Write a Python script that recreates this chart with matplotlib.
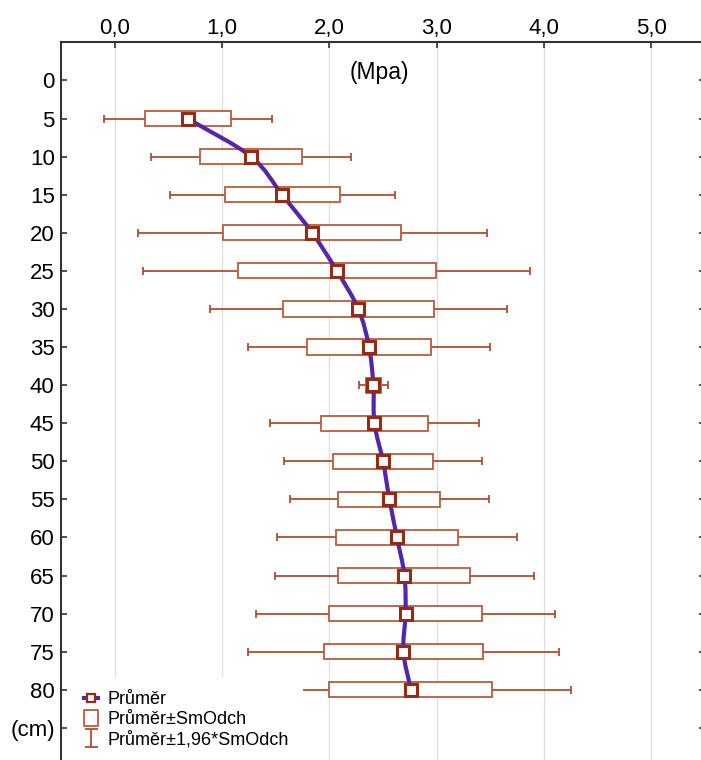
import matplotlib

matplotlib.use("Agg")
import matplotlib.pyplot as plt
import numpy as np
from matplotlib.lines import Line2D
from matplotlib.patches import PathPatch
from matplotlib.path import Path
from matplotlib.ticker import FuncFormatter, MultipleLocator

plt.rcParams["font.family"] = ["Liberation Sans", "DejaVu Sans"]

# penetrometer resistance by depth: mean and standard deviation
depth_cm = [5, 10, 15, 20, 25, 30, 35, 40, 45, 50, 55, 60, 65, 70, 75, 80]
mean_mpa = [0.68, 1.27, 1.56, 1.84, 2.07, 2.27, 2.37, 2.41,
            2.42, 2.50, 2.56, 2.63, 2.70, 2.71, 2.69, 2.76]
sd_mpa = [0.40, 0.475, 0.535, 0.83, 0.92, 0.705, 0.575, 0.07,
          0.497, 0.47, 0.475, 0.57, 0.615, 0.71, 0.74, 0.76]

y_ticks = [0, 5, 10, 15, 20, 25, 30, 35, 40, 45, 50, 55, 60, 65, 70, 75, 80, 85]
y_ticklabels = ["0", "5", "10", "15", "20", "25", "30", "35", "40",
                "45", "50", "55", "60", "65", "70", "75", "80", "(cm)"]

legend_labels = ["Průměr", "Průměr±SmOdch", "Průměr±1,96*SmOdch"]

BOX = "#bb5a3c"
WHISK = "#b24c30"
MARK = "#962a12"
LINE = "#5128ad"


def smooth_path(x, y):
    """Cubic Bezier path through the points (Catmull-Rom style tangents)."""
    x = np.asarray(x, float)
    y = np.asarray(y, float)
    slope = np.gradient(x, y)
    verts = [(x[0], y[0])]
    codes = [Path.MOVETO]
    for i in range(len(x) - 1):
        h = y[i + 1] - y[i]
        verts += [(x[i] + slope[i] * h / 3, y[i] + h / 3),
                  (x[i + 1] - slope[i + 1] * h / 3, y[i + 1] - h / 3),
                  (x[i + 1], y[i + 1])]
        codes += [Path.CURVE4] * 3
    return Path(verts, codes)


fig = plt.figure(figsize=(7.01, 7.60), dpi=100)
ax = fig.add_axes([61 / 701, -6 / 760, 644 / 701, 0.9522])

mean = np.array(mean_mpa)
sd = np.array(sd_mpa)

ax.errorbar(mean, depth_cm, xerr=1.96 * sd, fmt="none", ecolor=WHISK,
            elinewidth=1.3, capsize=2.6, capthick=1.3, zorder=2)
ax.barh(depth_cm, 2 * sd, left=mean - sd, height=2.0, facecolor="white",
        edgecolor=BOX, linewidth=1.3, zorder=3)
ax.add_patch(PathPatch(smooth_path(mean, depth_cm), facecolor="none",
                       edgecolor=LINE, linewidth=3, zorder=4))
ax.plot(mean, depth_cm, "s", ms=8.5, mfc="white", mec=MARK, mew=2.2, zorder=5)

ax.set_xlim(-0.5, 5.5)
ax.set_ylim(90, -5)
ax.xaxis.tick_top()
ax.xaxis.set_major_locator(MultipleLocator(1.0))
ax.xaxis.set_major_formatter(FuncFormatter(lambda v, _: f"{v:.1f}".replace(".", ",")))
ax.set_yticks(y_ticks)
ax.set_yticklabels(y_ticklabels)
ax.tick_params(axis="x", direction="in", length=4, width=1.2, labelsize=16, pad=2.5,
               colors="#333333", labelcolor="black")
ax.tick_params(axis="y", direction="in", length=4, width=1.2, labelsize=16, pad=4.5,
               right=True, colors="#333333", labelcolor="black")
ax.grid(axis="x", color="#dedede", linewidth=0.9)
for side in ("top", "left", "right"):
    ax.spines[side].set_color("#333333")
    ax.spines[side].set_linewidth(1.5)
ax.spines["bottom"].set_visible(False)
ax.set_axisbelow(True)

ax.text(2.47, -1.1, "(Mpa)", ha="center", va="center", fontsize=16.5)

# legend icons: line with mean marker, SD box, 1.96*SD whisker
box_marker = Path([(-0.42, -0.5), (0.42, -0.5), (0.42, 0.5), (-0.42, 0.5), (-0.42, -0.5)],
                  [Path.MOVETO, Path.LINETO, Path.LINETO, Path.LINETO, Path.CLOSEPOLY])
ibeam_marker = Path([(-0.36, -0.5), (0.36, -0.5), (0, -0.5), (0, 0.5), (-0.36, 0.5), (0.36, 0.5)],
                    [Path.MOVETO, Path.LINETO, Path.MOVETO, Path.LINETO, Path.MOVETO, Path.LINETO])
handles = [
    Line2D([], [], color=LINE, lw=3, marker="s", ms=5.5, mfc="white", mec=MARK, mew=1.6),
    Line2D([], [], ls="none", marker=box_marker, ms=12, mfc="white", mec=BOX, mew=1.3),
    Line2D([], [], ls="none", marker=ibeam_marker, ms=13, mfc="none", mec=WHISK, mew=1.3),
]
leg = ax.legend(handles, legend_labels, loc="upper left", bbox_to_anchor=(0.0999, 0.1092),
                bbox_transform=fig.transFigure, borderaxespad=0, borderpad=0.8,
                fontsize=13, handlelength=0.75, handletextpad=0.5, labelspacing=0.16,
                frameon=True, fancybox=False, framealpha=1, facecolor="white",
                edgecolor="none")
leg.set_zorder(10)

fig.savefig("out.png", dpi=100)
plt.close(fig)
